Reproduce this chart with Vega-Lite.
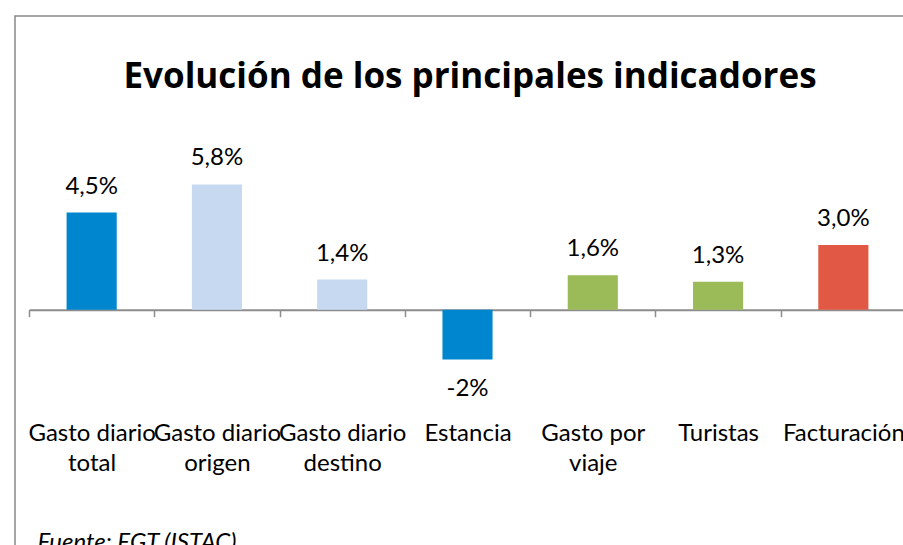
{
  "$schema": "https://vega.github.io/schema/vega-lite/v6.json",
  "autosize": "none",
  "padding": {"left": 15, "top": 16, "right": 0, "bottom": 0},
  "width": 900,
  "height": 545,
  "background": "white",
  "config": {
    "view": {"stroke": "#888888", "strokeWidth": 1.5},
    "font": "Lato"
  },
  "title": {
    "text": "Evolución de los principales indicadores",
    "font": "Open Sans",
    "fontSize": 35,
    "fontWeight": "bold",
    "color": "#000000",
    "anchor": "middle",
    "frame": "group",
    "baseline": "alphabetic",
    "offset": 0,
    "dy": 107,
    "dx": 5
  },
  "data": {
    "values": [
      {"categoria": "Gasto diario|total", "valor": 4.5, "etiqueta": "4,5%"},
      {"categoria": "Gasto diario|origen", "valor": 5.8, "etiqueta": "5,8%"},
      {"categoria": "Gasto diario|destino", "valor": 1.4, "etiqueta": "1,4%"},
      {"categoria": "Estancia", "valor": -2.3, "etiqueta": "-2%"},
      {"categoria": "Gasto por|viaje", "valor": 1.6, "etiqueta": "1,6%"},
      {"categoria": "Turistas", "valor": 1.3, "etiqueta": "1,3%"},
      {"categoria": "Facturación", "valor": 3.0, "etiqueta": "3,0%"}
    ]
  },
  "encoding": {
    "x": {
      "field": "categoria",
      "type": "nominal",
      "sort": null,
      "scale": {"range": [14, 891], "paddingInner": 0, "paddingOuter": 0},
      "axis": {
        "orient": "bottom",
        "offset": -251.3,
        "labelAngle": 0,
        "labelExpr": "isValid(datum.value) ? split(datum.value, '|') : ''",
        "labelFont": "Lato",
        "labelFontSize": 24,
        "labelColor": "#000000",
        "labelLineHeight": 30,
        "labelPadding": 105,
        "labelOverlap": false,
        "labelBound": false,
        "labelLimit": 0,
        "tickBand": "extent",
        "tickSize": 7,
        "tickColor": "#8c8c8c",
        "tickWidth": 1.5,
        "domainColor": "#8c8c8c",
        "domainWidth": 2,
        "grid": false,
        "title": "Fuente: EGT (ISTAC)",
        "titleFont": "Lato",
        "titleFontSize": 24,
        "titleFontStyle": "italic",
        "titleFontWeight": "normal",
        "titleColor": "#000000",
        "titleAlign": "left",
        "titleAnchor": "start",
        "titleBaseline": "alphabetic",
        "titleX": 22,
        "titleY": 240
      }
    },
    "y": {
      "field": "valor",
      "type": "quantitative",
      "scale": {"domain": [-11.63, 13.6], "nice": false, "zero": false},
      "axis": null
    }
  },
  "layer": [
    {
      "mark": {"type": "bar", "width": {"band": 0.4}},
      "encoding": {
        "y2": {"datum": 0},
        "color": {
          "field": "categoria",
          "type": "nominal",
          "scale": {
            "domain": ["Gasto diario|total", "Gasto diario|origen", "Gasto diario|destino", "Estancia", "Gasto por|viaje", "Turistas", "Facturación"],
            "range": ["#0085CF", "#C6D9F1", "#C6D9F1", "#0085CF", "#9BBB59", "#9BBB59", "#E15944"]
          },
          "legend": null
        }
      }
    },
    {
      "transform": [{"filter": "datum.valor >= 0"}],
      "mark": {"type": "text", "font": "Lato", "fontSize": 24, "color": "#000000", "baseline": "alphabetic", "dy": -19},
      "encoding": {"text": {"field": "etiqueta"}}
    },
    {
      "transform": [{"filter": "datum.valor < 0"}],
      "mark": {"type": "text", "font": "Lato", "fontSize": 24, "color": "#000000", "baseline": "alphabetic", "dy": 37},
      "encoding": {"text": {"field": "etiqueta"}}
    }
  ]
}
